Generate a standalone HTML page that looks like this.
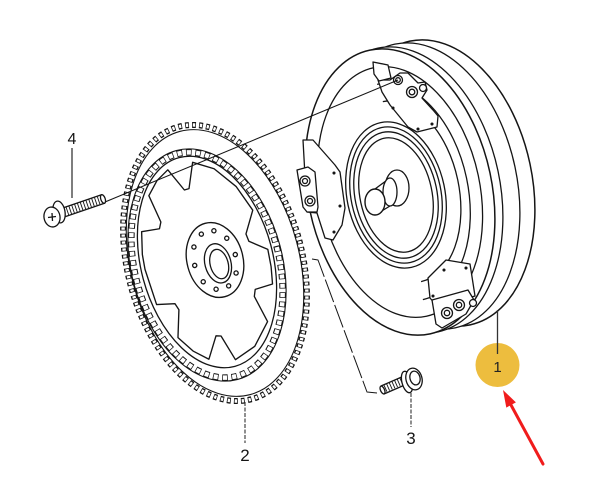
<!DOCTYPE html>
<html><head><meta charset="utf-8"><style>
html,body{margin:0;padding:0;background:#fff;}
svg{display:block;}
text{font-family:"Liberation Sans",Arial,sans-serif;}
</style></head><body>
<svg width="600" height="493" viewBox="0 0 600 493" xmlns="http://www.w3.org/2000/svg">
<rect width="600" height="493" fill="#fff"/>
<g fill="none" stroke="#151515" stroke-width="1.3" stroke-linejoin="round">

<!-- ===== Torque converter ===== -->
<g transform="translate(440 183) rotate(-12)"><ellipse rx="92" ry="145" fill="#fff" stroke-width="1.5"/></g>
<g transform="translate(425 186) rotate(-12)"><ellipse rx="92" ry="145" fill="#fff"/></g>
<g transform="translate(408 190) rotate(-12)"><ellipse rx="92" ry="145" fill="#fff"/></g>
<g transform="translate(400 192) rotate(-12)">
  <ellipse rx="92" ry="145" fill="#fff" stroke-width="1.5"/>
  <ellipse rx="80" ry="127"/>
  <path d="M0 -110 A68 110 0 0 1 0 110"/>
  <path d="M2 -92 A57 92 0 0 1 2 92"/>
</g>
<g transform="translate(396 195) rotate(-12)">
  <ellipse rx="49" ry="74"/>
  <ellipse rx="45" ry="69"/>
  <ellipse rx="41" ry="64"/>
  <ellipse rx="36" ry="58"/>
</g>
<!-- pilot hub -->
<ellipse cx="397" cy="188" rx="12" ry="18" fill="#fff"/>
<polygon points="375,189 390,178 390,206 375,215" fill="#fff"/>
<ellipse cx="390" cy="192" rx="7" ry="14" fill="#fff"/>
<ellipse cx="375" cy="202" rx="10" ry="13" fill="#fff" stroke-width="1.4"/>

<!-- pad A (top) -->
<polygon points="378,80 390,80 400,73 408,73 418,83 425,82 427,90 422,98 433,110 438,116 437,127 417,132 408,127 390,105 382,92" fill="#fff"/>
<polygon points="373,62 388,65 391,78 379,81 374,74" fill="#fff"/>
<circle cx="398" cy="80" r="4.5" fill="#fff"/><circle cx="398" cy="80" r="2.3"/>
<circle cx="412" cy="92" r="5.5" fill="#fff"/><circle cx="412" cy="92" r="2.8"/>
<circle cx="423" cy="88" r="3.5" fill="#fff"/>
<circle cx="393" cy="108" r="0.9" fill="#151515"/><circle cx="418" cy="129" r="0.9" fill="#151515"/><circle cx="432" cy="124" r="0.9" fill="#151515"/>

<!-- pad B (left) -->
<polygon points="303,140 313,140 335,165 340,172 345,208 342,225 333,240 325,238 317,213 307,212" fill="#fff"/>
<polygon points="297,170 308,167 315,172 318,207 317,212 307,212 303,207" fill="#fff"/>
<circle cx="305" cy="181" r="5" fill="#fff"/><circle cx="305" cy="181" r="2.5"/>
<circle cx="310" cy="201" r="5" fill="#fff"/><circle cx="310" cy="201" r="2.5"/>
<circle cx="334" cy="173" r="0.9" fill="#151515"/><circle cx="340" cy="206" r="0.9" fill="#151515"/><circle cx="334" cy="232" r="0.9" fill="#151515"/>

<!-- pad C (bottom) -->
<polygon points="428,278 446,260 470,264 475,296 462,300 436,305 430,298" fill="#fff"/>
<polygon points="432,300 468,290 474,300 466,314 442,328 436,324" fill="#fff"/>
<circle cx="447" cy="313" r="5.5" fill="#fff"/><circle cx="447" cy="313" r="2.7"/>
<circle cx="459" cy="305" r="5.5" fill="#fff"/><circle cx="459" cy="305" r="2.7"/>
<circle cx="473" cy="303" r="3.5" fill="#fff"/>
<circle cx="444" cy="270" r="0.9" fill="#151515"/><circle cx="466" cy="268" r="0.9" fill="#151515"/><circle cx="433" cy="296" r="0.9" fill="#151515"/>

<!-- ===== Flexplate / ring gear ===== -->
<g transform="translate(215 263) rotate(-15)">
  <ellipse rx="90" ry="145" fill="#fff" stroke="none"/>
  <ellipse rx="87.3" ry="141" stroke-width="6" pathLength="104" stroke-dasharray="0.55 0.45"/>
  <ellipse rx="87.3" ry="141" stroke="#fff" stroke-width="3.4" pathLength="104" stroke-dasharray="0.33 0.67" stroke-dashoffset="-0.11"/>
  <ellipse rx="84.3" ry="136.2" stroke-width="1.1"/>
</g>
<g transform="translate(207 265) rotate(-15)">
  <ellipse rx="75.5" ry="118.5" stroke-width="1.1"/>
  <ellipse rx="72" ry="115" stroke-width="6.5" pathLength="64" stroke-dasharray="0.6 0.4"/>
  <ellipse rx="72" ry="115" stroke="#fff" stroke-width="4.5" pathLength="64" stroke-dasharray="0.44 0.56" stroke-dashoffset="-0.08"/>
</g>
<g transform="translate(207 262) rotate(-15)">
  <ellipse rx="66" ry="108"/>
  <path d="M-55.3 -46.2 L-37.3 -44.4 L-34.2 -50.6 L-39 -79.1 L-27.2 -91.6 L-14 -99.2 L-3.2 -75.4 L1.6 -75.5 L11.9 -100 L31 -88.2 L47.6 -65.5 L57.6 -38.2 L44.9 -17 L45.8 -9.2 L62 3.6 L60.7 21.2 L57.6 38.2 L39.5 38.9 L36.8 45.5 L43.1 73.2 L24.3 93.8 L2.2 101.7 L-5.6 75.1 L-10.4 73.6 L-23.3 94.4 L-36.5 82.4 L-47.6 65.5 L-39.5 38.9 L-41.7 32 L-59.7 28.1 L-61.8 -8.9 L-60.5 -24 Z" fill="#fff" stroke-width="1.35"/>
</g>
<g transform="translate(215 260) rotate(-15)">
  <ellipse rx="28" ry="38" fill="#fff" stroke-width="1.35"/>
  <ellipse cx="2" cy="4" rx="13" ry="20"/>
  <ellipse cx="3" cy="5" rx="9" ry="15"/>
  <circle cx="21" cy="0" r="2.1"/><circle cx="17" cy="-18" r="2.1"/><circle cx="6.5" cy="-28.5" r="2.1"/>
  <circle cx="-6.5" cy="-28.5" r="2.1"/><circle cx="-17" cy="-18" r="2.1"/><circle cx="-21" cy="0" r="2.1"/>
  <circle cx="-17" cy="18" r="2.1"/><circle cx="-6.5" cy="28.5" r="2.1"/><circle cx="6.5" cy="28.5" r="2.1"/><circle cx="17" cy="18" r="2.1"/>
</g>

<!-- ===== connector lines ===== -->
<line x1="105" y1="202" x2="398" y2="80" stroke-width="1.1"/>
<polyline points="312,259 318,260 367,392 377,393" stroke-width="1" stroke-dasharray="24 3"/>

<!-- ===== Bolt 4 ===== -->
<polygon points="60.5,208.7 101.5,194.7 104.5,203.3 63.5,217.3" fill="#fff"/>
<line x1="67" y1="211.3" x2="101" y2="199.7" stroke-width="8.2" stroke-dasharray="0.9 2.1"/>
<ellipse cx="103" cy="199" rx="2.2" ry="4.5" transform="rotate(-19 103 199)" fill="#fff"/>
<ellipse cx="59" cy="212" rx="6" ry="11" transform="rotate(-10 59 212)" fill="#fff" stroke-width="1.3"/>
<ellipse cx="52" cy="217" rx="8" ry="10" transform="rotate(-10 52 217)" fill="#fff" stroke-width="1.3"/>
<line x1="48" y1="217.5" x2="56" y2="216.5"/><line x1="52" y1="213" x2="52.5" y2="221"/>

<!-- ===== Bolt 3 ===== -->
<polygon points="381,386 404,376 407,384 384,394" fill="#fff"/>
<line x1="385" y1="388.5" x2="403" y2="380.5" stroke-width="7.5" stroke-dasharray="0.9 2"/>
<ellipse cx="382.5" cy="390" rx="2" ry="4.2" transform="rotate(-24 382.5 390)" fill="#fff"/>
<ellipse cx="407" cy="382" rx="5" ry="11" transform="rotate(-15 407 382)" fill="#fff" stroke-width="1.3"/>
<ellipse cx="414" cy="379" rx="8" ry="11" transform="rotate(-15 414 379)" fill="#fff" stroke-width="1.3"/>
<ellipse cx="415" cy="378" rx="5" ry="7" transform="rotate(-15 415 378)"/>

<!-- ===== leaders ===== -->
<line x1="72" y1="148" x2="72" y2="198" stroke-width="1.1"/>
<line x1="245" y1="402" x2="245" y2="443" stroke="#333" stroke-width="1.1" stroke-dasharray="4 1.5"/>
<line x1="411" y1="393" x2="411" y2="427" stroke="#333" stroke-width="1.1" stroke-dasharray="4 1.5"/>
</g>

<!-- label circle -->
<circle cx="497.5" cy="365" r="22" fill="#EDBD3E"/>
<line x1="497.5" y1="310" x2="497.5" y2="354" stroke="#333" stroke-width="1.3"/>
<text x="497.5" y="372" font-size="15" text-anchor="middle" fill="#222">1</text>

<text x="72" y="144" font-size="16" text-anchor="middle" fill="#151515">4</text>
<text x="245" y="461" font-size="17" text-anchor="middle" fill="#151515">2</text>
<text x="411" y="444" font-size="17" text-anchor="middle" fill="#151515">3</text>

<!-- red arrow -->
<line x1="543" y1="464" x2="511" y2="405" stroke="#f01c1c" stroke-width="3" stroke-linecap="round"/>
<polygon points="503,390 515.9,402.4 506.3,407.6" fill="#f01c1c"/>
</svg>
</body></html>
